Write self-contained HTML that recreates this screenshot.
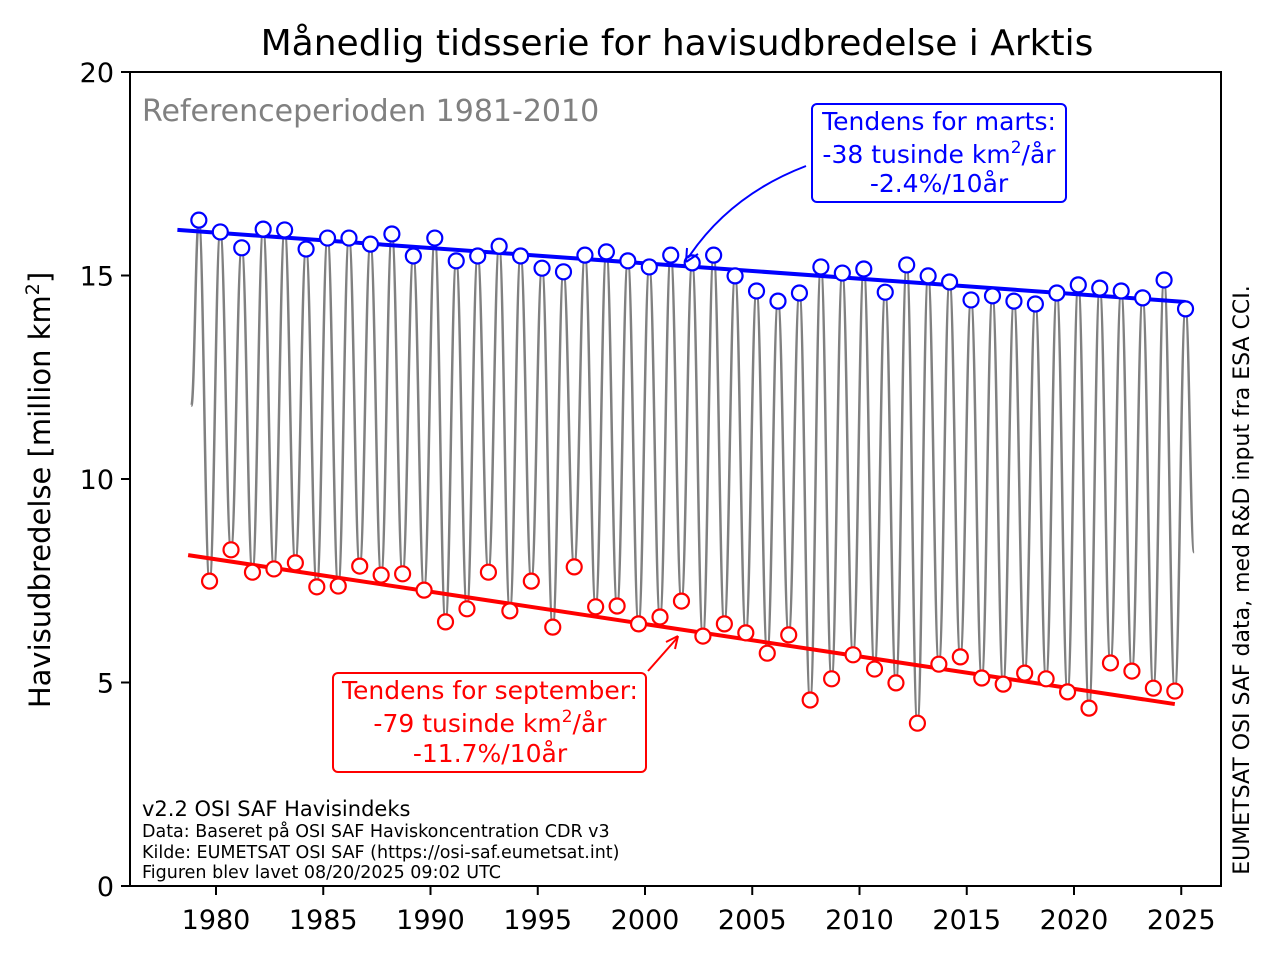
<!DOCTYPE html>
<html><head><meta charset="utf-8"><style>
body{margin:0;background:#fff}
svg text{font-family:"DejaVu Sans","Liberation Sans",sans-serif}
</style></head><body>
<svg id="chart" width="1274" height="958" xmlns="http://www.w3.org/2000/svg">
<g id="plot"></g>
<text x="677" y="55" font-size="36" text-anchor="middle">Månedlig tidsserie for havisudbredelse i Arktis</text>
<text transform="translate(50,490) rotate(-90)" font-size="29" text-anchor="middle">Havisudbredelse [million km<tspan baseline-shift="super" font-size="19">2</tspan>]</text>
<text x="142" y="121" font-size="30" fill="#808080">Referenceperioden 1981-2010</text>
<path d="M806,166 Q730,195 688,258" fill="none" stroke="#0000ff" stroke-width="2"/>
<path d="M686,262 L687,248 M686,262 L698,254" stroke="#0000ff" stroke-width="2" fill="none"/>
<rect x="812" y="104" width="254" height="98" rx="5" fill="#fff" stroke="#0000ff" stroke-width="2"/>
<text font-size="25" fill="#0000ff" text-anchor="middle"><tspan x="939" y="130">Tendens for marts:</tspan><tspan x="939" y="163">-38 tusinde km<tspan baseline-shift="super" font-size="17">2</tspan>/år</tspan><tspan x="939" y="192">-2.4%/10år</tspan></text>
<path d="M648,671 L678,637" fill="none" stroke="#ff0000" stroke-width="2"/>
<path d="M678,636 L666,642 M678,636 L675,649" stroke="#ff0000" stroke-width="2" fill="none"/>
<rect x="333" y="673" width="313" height="99" rx="5" fill="#fff" stroke="#ff0000" stroke-width="2"/>
<text font-size="25" fill="#ff0000" text-anchor="middle"><tspan x="490" y="699">Tendens for september:</tspan><tspan x="490" y="732">-79 tusinde km<tspan baseline-shift="super" font-size="17">2</tspan>/år</tspan><tspan x="490" y="762">-11.7%/10år</tspan></text>
<text x="142" y="816" font-size="21">v2.2 OSI SAF Havisindeks</text>
<text x="142" y="837" font-size="17.5">Data: Baseret på OSI SAF Haviskoncentration CDR v3</text>
<text x="142" y="858" font-size="17.5">Kilde: EUMETSAT OSI SAF (https://osi-saf.eumetsat.int)</text>
<text x="142" y="878" font-size="17.5">Figuren blev lavet 08/20/2025 09:02 UTC</text>
<text transform="translate(1249,580) rotate(-90)" font-size="22" text-anchor="middle">EUMETSAT OSI SAF data, med R&amp;D input fra ESA CCI.</text>
</svg>
<script>
const marchVals=[16.36,16.07,15.68,16.14,16.12,15.65,15.92,15.92,15.77,16.02,15.48,15.92,15.36,15.48,15.72,15.48,15.18,15.09,15.50,15.58,15.36,15.21,15.50,15.31,15.50,14.99,14.62,14.37,14.57,15.21,15.06,15.16,14.59,15.26,14.99,14.84,14.40,14.50,14.37,14.30,14.57,14.77,14.69,14.62,14.45,14.89,14.18];
const septVals=[7.49,8.26,7.71,7.79,7.94,7.35,7.37,7.86,7.64,7.67,7.27,6.49,6.81,7.71,6.76,7.49,6.36,7.84,6.86,6.88,6.44,6.61,7.00,6.14,6.44,6.22,5.72,6.17,4.57,5.09,5.68,5.33,4.99,4.00,5.45,5.63,5.11,4.96,5.23,5.09,4.77,4.37,5.48,5.28,4.86,4.79];
const firstYear=1979;
const marchTrend=[[1978.2,16.12],[2025.2,14.35]];
const septTrend=[[1978.7,8.13],[2024.7,4.47]];
const xTicks=[1980,1985,1990,1995,2000,2005,2010,2015,2020,2025];
const yTicks=[0,5,10,15,20];
const seriesStart=[1978.85,11.8], seriesEnd=[2025.6,8.2];

const NS="http://www.w3.org/2000/svg";
const X=t=>216+(t-1980)*21.45;
const Y=v=>886-v*40.7;
const g=document.getElementById('plot');
function mk(tag,attrs,parent){const e=document.createElementNS(NS,tag);for(const k in attrs)e.setAttribute(k,attrs[k]);(parent||g).appendChild(e);return e;}
function txt(s,attrs){const e=mk('text',attrs);e.textContent=s;return e;}

let pts=[seriesStart];
for(let i=0;i<marchVals.length;i++){
  pts.push([firstYear+i+0.2,marchVals[i]]);
  if(i<septVals.length)pts.push([firstYear+i+0.7,septVals[i]]);
}
pts.push(seriesEnd);
let d=`M${X(pts[0][0])},${Y(pts[0][1])}`;
for(let i=1;i<pts.length;i++){
  const [t0,v0]=pts[i-1],[t1,v1]=pts[i];
  const x0=X(t0),x1=X(t1),dx=(x1-x0)*0.42;
  d+=` C${x0+dx},${Y(v0)} ${x1-dx},${Y(v1)} ${x1},${Y(v1)}`;
}
const gl=mk('path',{d:d,fill:'none',stroke:'#808080','stroke-width':2.5});



const bt=mk('line',{x1:X(marchTrend[0][0]),y1:Y(marchTrend[0][1]),x2:X(marchTrend[1][0]),y2:Y(marchTrend[1][1]),stroke:'#0000ff','stroke-width':4});


const rt=mk('line',{x1:X(septTrend[0][0]),y1:Y(septTrend[0][1]),x2:X(septTrend[1][0]),y2:Y(septTrend[1][1]),stroke:'#ff0000','stroke-width':4});



marchVals.forEach((v,i)=>{
  const c=mk('circle',{cx:X(firstYear+i+0.2),cy:Y(v),r:7.5,fill:'#fff',stroke:'#0000ff','stroke-width':2.2});
  
  
});
septVals.forEach((v,i)=>{
  const c=mk('circle',{cx:X(firstYear+i+0.7),cy:Y(v),r:7.5,fill:'#fff',stroke:'#ff0000','stroke-width':2.2});
  
  
});

const fr=mk('rect',{x:130,y:72,width:1091,height:814,fill:'none',stroke:'#000','stroke-width':2});


xTicks.forEach(t=>{
  const l=mk('line',{x1:X(t),x2:X(t),y1:886,y2:895,stroke:'#000','stroke-width':2});
  
  
  const s=txt(String(t),{x:X(t),y:929,'font-size':27,'text-anchor':'middle'});
  
  
});
yTicks.forEach(v=>{
  const l=mk('line',{x1:121,x2:130,y1:Y(v),y2:Y(v),stroke:'#000','stroke-width':2});
  
  
  const s=txt(String(v),{x:114,y:Y(v)+10,'font-size':27,'text-anchor':'end'});
  
  
});
</script>
</body></html>
